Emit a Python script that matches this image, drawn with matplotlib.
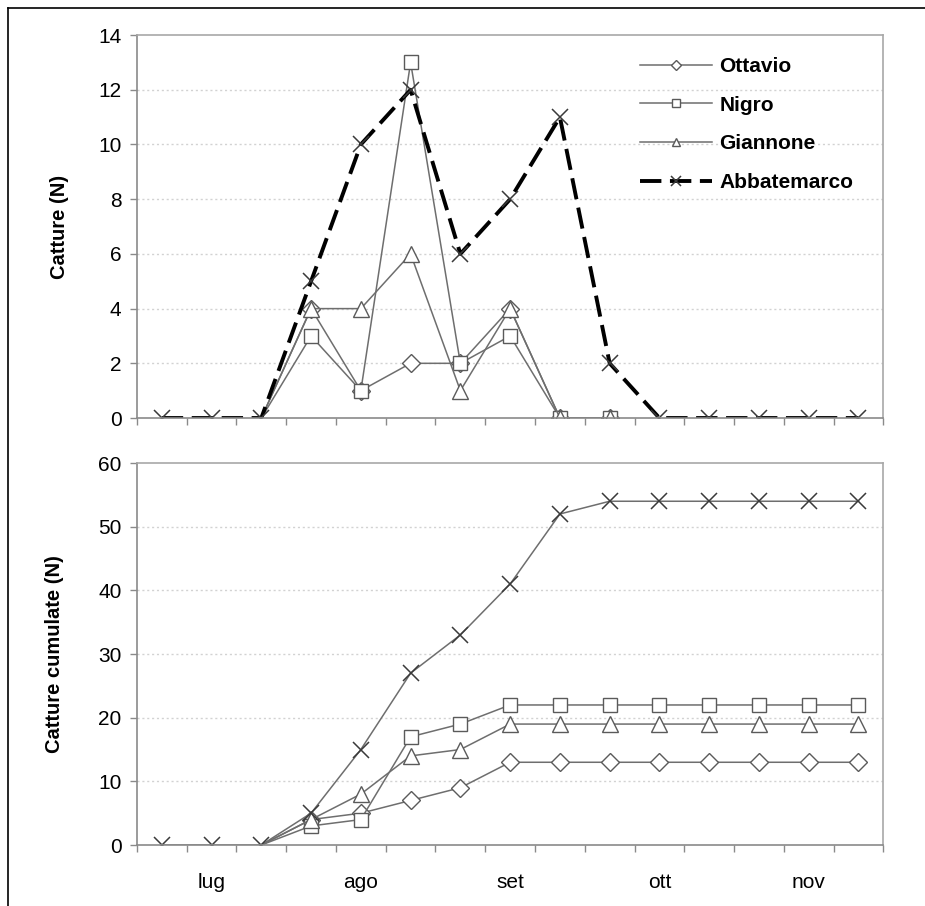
import numpy as np
import matplotlib
matplotlib.use("Agg")
import matplotlib.pyplot as plt
from matplotlib.lines import Line2D

plt.rcParams['font.family'] = ['Liberation Sans', 'DejaVu Sans']

# ---- dati ----
mesi = ["lug", "ago", "set", "ott", "nov"]
pos_mesi = [1, 4, 7, 10, 13]
x = np.arange(15)

# catture per rilievo (Ottavio, Nigro, Giannone partono dal 3° rilievo)
ottavio = [np.nan, np.nan, 0, 4, 1, 2, 2, 4, 0, 0, np.nan, np.nan, np.nan, np.nan, np.nan]
nigro = [np.nan, np.nan, 0, 3, 1, 13, 2, 3, 0, 0, np.nan, np.nan, np.nan, np.nan, np.nan]
giannone = [np.nan, np.nan, 0, 4, 4, 6, 1, 4, 0, 0, np.nan, np.nan, np.nan, np.nan, np.nan]
abbatemarco = [0, 0, 0, 5, 10, 12, 6, 8, 11, 2, 0, 0, 0, 0, 0]

# catture cumulate
ottavio_cum = [np.nan, np.nan, 0, 4, 5, 7, 9, 13, 13, 13, 13, 13, 13, 13, 13]
nigro_cum = [np.nan, np.nan, 0, 3, 4, 17, 19, 22, 22, 22, 22, 22, 22, 22, 22]
giannone_cum = [np.nan, np.nan, 0, 4, 8, 14, 15, 19, 19, 19, 19, 19, 19, 19, 19]
abbatemarco_cum = [0, 0, 0, 5, 15, 27, 33, 41, 52, 54, 54, 54, 54, 54, 54]

grigio = "#6e6e6e"
mk_grigio = "#5a5a5a"

fig = plt.figure(figsize=(9.25, 9.06), dpi=100)
ax1 = fig.add_axes([0.148, 0.5386, 0.807, 0.4227])
ax2 = fig.add_axes([0.148, 0.0673, 0.807, 0.4216])


def serie(ax, y, marker, label, ms):
    ax.plot(x, y, color=grigio, lw=1.1, marker=marker, ms=ms, mfc="white",
            mec=mk_grigio, mew=1.0, markevery=list(range(3, 15)), label=label)


serie(ax1, ottavio, "D", "Ottavio", 9)
serie(ax1, nigro, "s", "Nigro", 10)
serie(ax1, giannone, "^", "Giannone", 11)
ax1.plot(x, abbatemarco, color="black", lw=2.8, dashes=(5.5, 2.2), marker="x",
         ms=12, mec="#3a3a3a", mew=1.1, label="Abbatemarco")

serie(ax2, ottavio_cum, "D", "Ottavio", 9)
serie(ax2, nigro_cum, "s", "Nigro", 10)
serie(ax2, giannone_cum, "^", "Giannone", 11)
ax2.plot(x, abbatemarco_cum, color=grigio, lw=1.1, marker="x", ms=12,
         mec="#3a3a3a", mew=1.1)

for ax, ymax, step in [(ax1, 14, 2), (ax2, 60, 10)]:
    ax.set_xlim(-0.5, 14.5)
    ax.set_ylim(0, ymax)
    ax.set_yticks(np.arange(0, ymax + 1, step))
    ax.set_xticks(np.arange(-0.5, 15, 1))
    ax.set_xticklabels([])
    ax.tick_params(axis="both", direction="out", length=5, color="#8a8a8a",
                   labelsize=15, width=1)
    ax.tick_params(axis="y", pad=6)
    for s in ["left", "bottom"]:
        ax.spines[s].set_color("#8a8a8a")
        ax.spines[s].set_linewidth(1.2)
    for s in ["top", "right"]:
        ax.spines[s].set_color("#a8a8a8")
        ax.spines[s].set_linewidth(1.2)
    for yv in np.arange(step, ymax, step):
        ax.axhline(yv, color="#d2d2d2", lw=1.0, ls=(0, (1.5, 2)), zorder=0)

ax2.set_xticks(pos_mesi, minor=True)
ax2.set_xticklabels(mesi, minor=True)
ax2.tick_params(axis="x", which="minor", length=0, labelsize=15, pad=20)

ax1.set_ylabel("Catture (N)", fontsize=14.5, fontweight="bold")
ax2.set_ylabel("Catture cumulate (N)", fontsize=14.5, fontweight="bold")
ax1.yaxis.set_label_coords(-0.091, 0.5)
ax2.yaxis.set_label_coords(-0.098, 0.5)

leg = ax1.legend(loc="upper left", bbox_to_anchor=(0.663, 0.965), frameon=False,
                 borderaxespad=0, handlelength=3.45, handletextpad=0.35,
                 labelspacing=0.95, markerscale=0.55,
                 prop={"weight": "bold", "size": 15})

# cornice esterna
fig.add_artist(Line2D([0.009, 1.0], [0.991, 0.991], color="black", lw=1.2,
                      transform=fig.transFigure))
fig.add_artist(Line2D([0.009, 0.009], [0.0, 0.991], color="black", lw=1.2,
                      transform=fig.transFigure))

fig.savefig("out.png", dpi=100)
